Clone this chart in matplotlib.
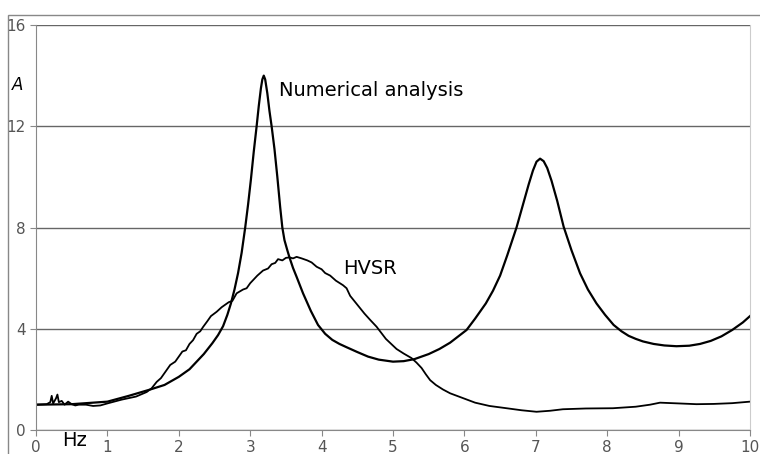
import matplotlib.pyplot as plt
from matplotlib.patches import Rectangle

# numerical analysis (transfer function)
num_f = [0, 0.5, 1.0, 1.3, 1.6, 1.8, 2.0, 2.15, 2.25, 2.35, 2.47, 2.55, 2.62, 2.68, 2.73,
         2.78, 2.83, 2.88, 2.93, 2.97, 3.01, 3.05, 3.09, 3.12, 3.15, 3.17, 3.19, 3.21,
         3.24, 3.27, 3.3, 3.34, 3.38, 3.42, 3.45, 3.48, 3.52, 3.55, 3.6, 3.65, 3.74,
         3.85, 3.95, 4.05, 4.15, 4.25, 4.35, 4.5, 4.65, 4.8, 5.0, 5.15, 5.3, 5.5, 5.65,
         5.8, 6.03, 6.15, 6.3, 6.4, 6.5, 6.6, 6.73, 6.82, 6.9, 6.96, 7.01, 7.06, 7.11,
         7.16, 7.22, 7.3, 7.39, 7.5, 7.62, 7.73, 7.85, 7.97, 8.09, 8.2, 8.3, 8.4, 8.5,
         8.65, 8.8, 8.97, 9.15, 9.3, 9.45, 9.6, 9.75, 9.9, 10.0]
num_a = [1.0, 1.02, 1.12, 1.35, 1.6, 1.78, 2.1, 2.4, 2.7, 3.0, 3.43, 3.75, 4.1, 4.55, 5.0,
         5.55, 6.2, 7.0, 8.0, 8.9, 9.9, 11.0, 12.0, 12.8, 13.5, 13.85, 14.0, 13.85,
         13.3, 12.6, 12.0, 11.1, 10.0, 8.8, 8.0, 7.5, 7.1, 6.82, 6.4, 6.05, 5.4,
         4.7, 4.15, 3.8, 3.56, 3.4, 3.27, 3.08, 2.9, 2.78, 2.7, 2.72, 2.8, 3.0, 3.2,
         3.45, 3.95, 4.4, 5.0, 5.5, 6.1, 6.9, 8.0, 8.9, 9.7, 10.25, 10.6, 10.72, 10.62,
         10.35, 9.85, 9.05, 8.03, 7.1, 6.19, 5.55, 5.0, 4.55, 4.15, 3.9, 3.72, 3.6, 3.5,
         3.4, 3.34, 3.31, 3.33, 3.4, 3.52, 3.7, 3.95, 4.25, 4.5]

# HVSR measured
hv_f = [0, 0.15, 0.2, 0.22, 0.24, 0.28, 0.3, 0.32, 0.36, 0.4, 0.45, 0.5, 0.55, 0.6,
        0.7, 0.8, 0.9, 1.0, 1.2, 1.4, 1.55, 1.62, 1.69, 1.75, 1.8, 1.88, 1.95, 2.0,
        2.05, 2.1, 2.15, 2.2, 2.25, 2.3, 2.34, 2.4, 2.45, 2.53, 2.6, 2.65, 2.7, 2.75,
        2.81, 2.9, 2.95, 3.0, 3.05, 3.1, 3.18, 3.25, 3.3, 3.35, 3.39, 3.45, 3.5, 3.55,
        3.6, 3.65, 3.72, 3.8, 3.86, 3.93, 4.0, 4.05, 4.12, 4.2, 4.3, 4.35, 4.4, 4.5,
        4.6, 4.68, 4.77, 4.9, 5.05, 5.15, 5.26, 5.33, 5.4, 5.46, 5.52, 5.6, 5.7, 5.8,
        5.98, 6.15, 6.35, 6.59, 6.8, 7.01, 7.2, 7.38, 7.7, 8.08, 8.4, 8.6, 8.74, 9.0,
        9.25, 9.49, 9.75, 10.0]
hv_a = [1.0, 1.02, 1.1, 1.35, 1.05, 1.25, 1.4, 1.1, 1.15, 1.0, 1.12, 1.02, 0.97, 1.0,
        1.0, 0.95, 0.97, 1.05, 1.2, 1.32, 1.5, 1.65, 1.9, 2.05, 2.25, 2.57, 2.7, 2.9,
        3.1, 3.15, 3.4, 3.55, 3.8, 3.9, 4.07, 4.3, 4.5, 4.67, 4.85, 4.95, 5.05, 5.1,
        5.4, 5.55, 5.6, 5.8, 5.95, 6.1, 6.3, 6.38, 6.55, 6.6, 6.75, 6.7, 6.8, 6.82,
        6.78, 6.84, 6.78, 6.7, 6.62, 6.45, 6.35, 6.2, 6.1, 5.9, 5.72, 5.6, 5.3, 4.95,
        4.6, 4.35, 4.08, 3.6, 3.2, 3.02, 2.84, 2.66, 2.45, 2.2, 1.97, 1.78, 1.6, 1.45,
        1.26, 1.08, 0.95, 0.86, 0.78, 0.72, 0.76, 0.82, 0.85, 0.86, 0.92, 1.0, 1.08, 1.05,
        1.02, 1.03, 1.06, 1.12]

x_ticks = [0, 1, 2, 3, 4, 5, 6, 7, 8, 9, 10]
y_ticks = [0, 4, 8, 12, 16]

fig = plt.figure(figsize=(7.6, 4.54), dpi=100)
ax = fig.add_axes([36 / 760, 1 - 430 / 454, 714 / 760, 405 / 454])

# outer chart border (only top and left visible)
fig.patches.append(Rectangle((8 / 760, -0.05), 1.1, 1 - 15 / 454 + 0.05,
                             transform=fig.transFigure, fill=False,
                             edgecolor='#888888', lw=1.0))

ax.plot(num_f, num_a, color='black', lw=1.6, solid_joinstyle='round')
ax.plot(hv_f, hv_a, color='black', lw=1.3, solid_joinstyle='round')

ax.set_xlim(0, 10)
ax.set_ylim(0, 16)
ax.set_xticks(x_ticks)
ax.set_yticks(y_ticks)
ax.grid(axis='y', color='#666666', lw=1.0)
ax.set_axisbelow(True)
for s in ['left', 'bottom']:
    ax.spines[s].set_color('#888888')
ax.spines['top'].set_visible(False)
ax.spines['right'].set_color('#cccccc')
ax.tick_params(colors='#888888', labelcolor='#555555', labelsize=11, length=4)

fig.text(18 / 760, 1 - 85 / 454, 'A', fontsize=12, style='italic', va='center', ha='center')
fig.text(62 / 760, 1 - 441 / 454, 'Hz', fontsize=14, va='center', ha='left')
ax.text(3.4, 13.4, 'Numerical analysis', fontsize=14, va='center', ha='left')
ax.text(4.3, 6.4, 'HVSR', fontsize=14, va='center', ha='left')

fig.savefig('out.png', dpi=100)
